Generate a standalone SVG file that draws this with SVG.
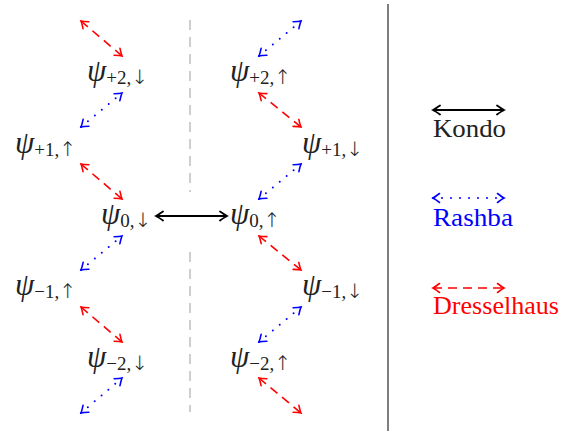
<svg xmlns="http://www.w3.org/2000/svg" width="574" height="433" viewBox="0 0 574 433">
<style>
text{font-family:"Liberation Serif","DejaVu Serif",serif;fill:#222}
.psi{font-style:italic;font-size:31px}
.sub{font-size:19px}
.ar{font-family:"DejaVu Sans","Noto Sans",sans-serif;font-size:20px;font-weight:300}
.lg{font-size:25px}
.red{stroke:#ff0000;stroke-width:1.6;fill:none;stroke-dasharray:9 6}
.blue{stroke:#0000ff;stroke-width:2;fill:none;stroke-dasharray:0 9;stroke-linecap:round}
.blk{stroke:#000;stroke-width:2;fill:none}
</style>
<defs>
<marker id="hr" viewBox="-8 -6 10 12" refX="0" refY="0" markerWidth="10" markerHeight="12" markerUnits="userSpaceOnUse" orient="auto-start-reverse"><path d="M-6.5,-4.5 Q-2,-1 0,0 Q-2,1 -6.5,4.5" fill="none" stroke="#ff0000" stroke-width="1.6" stroke-linecap="round"/></marker>
<marker id="hb" viewBox="-8 -6 10 12" refX="0" refY="0" markerWidth="10" markerHeight="12" markerUnits="userSpaceOnUse" orient="auto-start-reverse"><path d="M-6.5,-4.5 Q-2,-1 0,0 Q-2,1 -6.5,4.5" fill="none" stroke="#0000ff" stroke-width="1.6" stroke-linecap="round"/></marker>
<marker id="hk" viewBox="-8 -6 10 12" refX="0" refY="0" markerWidth="10" markerHeight="12" markerUnits="userSpaceOnUse" orient="auto-start-reverse"><path d="M-7,-4.5 Q-2,-1 0,0 Q-2,1 -7,4.5" fill="none" stroke="#000" stroke-width="1.8" stroke-linecap="round"/></marker>
</defs>

<g id="dividers">
<line x1="190" y1="20" x2="190" y2="192" stroke="#b0b0b0" stroke-width="1.2" stroke-dasharray="10 7"/>
<line x1="190" y1="252" x2="190" y2="412" stroke="#b0b0b0" stroke-width="1.2" stroke-dasharray="10 7"/>
<line x1="388" y1="4" x2="388" y2="431" stroke="#555" stroke-width="1.5"/>
</g>

<g id="connectors">
<line class="red" x1="81" y1="21" x2="122" y2="56" marker-start="url(#hr)" marker-end="url(#hr)"/>
<line class="blue" x1="81" y1="127" x2="122" y2="93" marker-start="url(#hb)" marker-end="url(#hb)"/>
<line class="red" x1="81" y1="164" x2="122" y2="199" marker-start="url(#hr)" marker-end="url(#hr)"/>
<line class="blue" x1="81" y1="270" x2="122" y2="236" marker-start="url(#hb)" marker-end="url(#hb)"/>
<line class="red" x1="81" y1="307" x2="122" y2="342" marker-start="url(#hr)" marker-end="url(#hr)"/>
<line class="blue" x1="81" y1="413" x2="122" y2="378" marker-start="url(#hb)" marker-end="url(#hb)"/>
<line class="blue" x1="259" y1="56" x2="301" y2="21" marker-start="url(#hb)" marker-end="url(#hb)"/>
<line class="red" x1="259" y1="93" x2="301" y2="127" marker-start="url(#hr)" marker-end="url(#hr)"/>
<line class="blue" x1="259" y1="199" x2="301" y2="164" marker-start="url(#hb)" marker-end="url(#hb)"/>
<line class="red" x1="259" y1="236" x2="301" y2="270" marker-start="url(#hr)" marker-end="url(#hr)"/>
<line class="blue" x1="259" y1="342" x2="301" y2="307" marker-start="url(#hb)" marker-end="url(#hb)"/>
<line class="red" x1="259" y1="378" x2="301" y2="413" marker-start="url(#hr)" marker-end="url(#hr)"/>
<line class="blk" x1="156" y1="216" x2="227" y2="216" marker-start="url(#hk)" marker-end="url(#hk)"/>
</g>

<g id="n-p2d"><text x="87" y="81"><tspan class="psi">ψ</tspan><tspan class="sub" dy="3">+2,</tspan><tspan class="ar">↓</tspan></text></g>
<g id="n-p1u"><text x="15" y="153"><tspan class="psi">ψ</tspan><tspan class="sub" dy="3">+1,</tspan><tspan class="ar">↑</tspan></text></g>
<g id="n-0d"><text x="101" y="224"><tspan class="psi">ψ</tspan><tspan class="sub" dy="3">0,</tspan><tspan class="ar">↓</tspan></text></g>
<g id="n-m1u"><text x="15" y="295"><tspan class="psi">ψ</tspan><tspan class="sub" dy="3">−1,</tspan><tspan class="ar">↑</tspan></text></g>
<g id="n-m2d"><text x="87" y="367"><tspan class="psi">ψ</tspan><tspan class="sub" dy="3">−2,</tspan><tspan class="ar">↓</tspan></text></g>

<g id="n-p2u"><text x="230" y="81"><tspan class="psi">ψ</tspan><tspan class="sub" dy="3">+2,</tspan><tspan class="ar">↑</tspan></text></g>
<g id="n-p1d"><text x="302" y="153"><tspan class="psi">ψ</tspan><tspan class="sub" dy="3">+1,</tspan><tspan class="ar">↓</tspan></text></g>
<g id="n-0u"><text x="230" y="224"><tspan class="psi">ψ</tspan><tspan class="sub" dy="3">0,</tspan><tspan class="ar">↑</tspan></text></g>
<g id="n-m1d"><text x="302" y="295"><tspan class="psi">ψ</tspan><tspan class="sub" dy="3">−1,</tspan><tspan class="ar">↓</tspan></text></g>
<g id="n-m2u"><text x="230" y="367"><tspan class="psi">ψ</tspan><tspan class="sub" dy="3">−2,</tspan><tspan class="ar">↑</tspan></text></g>

<g id="legend">
<line class="blk" x1="433" y1="110" x2="504" y2="110" marker-start="url(#hk)" marker-end="url(#hk)"/>
<text class="lg" x="433" y="137" textLength="73" lengthAdjust="spacingAndGlyphs">Kondo</text>
<line class="blue" x1="433" y1="198" x2="504" y2="198" marker-start="url(#hb)" marker-end="url(#hb)"/>
<text class="lg" x="433" y="226" textLength="80" lengthAdjust="spacingAndGlyphs" style="fill:#0000ff">Rashba</text>
<line class="red" x1="433" y1="288" x2="504" y2="288" marker-start="url(#hr)" marker-end="url(#hr)"/>
<text class="lg" x="433" y="314" textLength="126" lengthAdjust="spacingAndGlyphs" style="fill:#ff0000">Dresselhaus</text>
</g>
</svg>
